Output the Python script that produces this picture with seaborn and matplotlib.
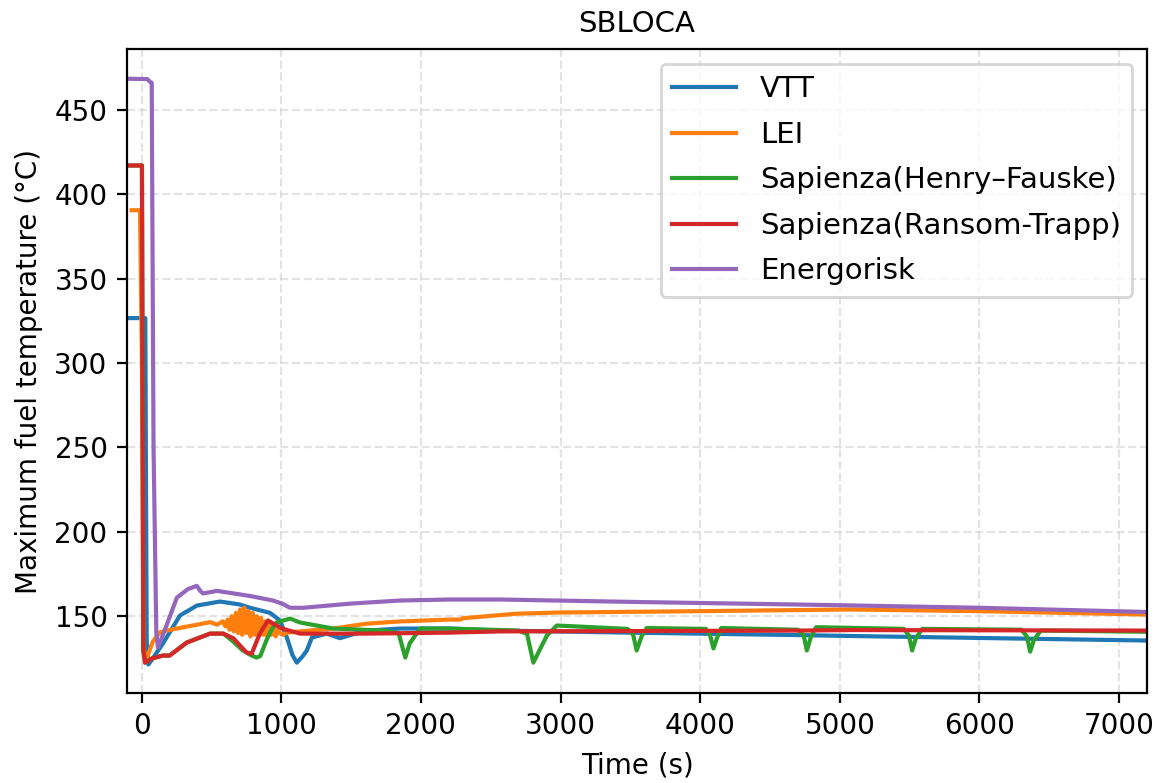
import matplotlib
matplotlib.use("Agg")
import matplotlib.pyplot as plt
import seaborn as sns
import pandas as pd

series_names = ["VTT", "LEI", "Sapienza(Henry–Fauske)", "Sapienza(Ransom-Trapp)", "Energorisk"]
colors = ["#1f77b4", "#ff7f0e", "#2ca02c", "#d62728", "#9467bd"]

vtt_t = [-105, 26, 36, 48, 80, 152, 274, 395, 560, 700, 776, 919, 990, 1040, 1080, 1111, 1150, 1183, 1219,
         1326, 1420, 1500, 1612, 1850, 2208, 2567, 3402, 4716, 5073, 7200]
vtt_T = [326.6, 326.6, 135, 121.4, 125, 133.8, 150.4, 156.3, 158.7, 157, 155, 152, 147.5, 137.4, 127, 122.5,
         126, 129.7, 137.4, 139.7, 137, 139, 141.5, 142.7, 142.7, 141.5, 140.4, 138.8, 138.3, 135.6]

lei_t = [-72, -12, 2, 12, 38, 80, 131, 180, 300, 400, 490, 540, 580, 600,
         615, 630, 645, 660, 675, 690, 705, 720, 735, 750, 765, 780, 795, 810, 825, 840, 855,
         870, 885, 900, 915, 930, 945, 960, 975, 990, 1010, 1040, 1200, 1372, 1613, 1850,
         2200, 2280, 2300, 2686, 2996, 4000, 5073, 6000, 7200]
lei_T = [390.5, 390.5, 300, 130, 125.5, 135, 140.5, 141.5, 143.5, 145, 146.5, 145, 147, 144,
         148, 142, 150, 141, 152, 140, 154, 139, 155, 140, 153, 138, 152, 139, 150, 138, 149,
         139, 147, 138, 146, 139, 143, 138, 142, 140, 139, 140.3, 141.5, 142.7, 145.6, 146.9,
         148, 148, 148.8, 151.5, 152.2, 153, 154, 153, 151]

hf_t = [-105, 2, 12, 24, 74, 152, 200, 323, 490, 585, 656, 720, 780, 823, 850, 893, 930, 965, 1063,
        1134, 1372, 1730, 1840, 1888, 1920, 1995, 2200, 2700, 2760, 2805, 2850, 2902, 2973, 3480,
        3520, 3545, 3580, 3617, 4040, 4070, 4095, 4120, 4150, 4700, 4740, 4764, 4790, 4830,
        5460, 5495, 5518, 5545, 5590, 6300, 6340, 6363, 6390, 6440, 7200]
hf_T = [417, 417, 130, 122.5, 125, 126.7, 126.7, 134.4, 139.7, 139.7, 135, 130, 127, 125.5, 126.5, 135.6,
        142, 146.3, 148.6, 146.3, 142.7, 141.5, 140, 125.5, 134, 142.7, 142.7, 141.5, 139.5, 122.5, 130,
        138.5, 144.5, 142.5, 139, 129.7, 138, 143, 142.5, 139, 130.9, 137, 143, 142, 139, 129.7,
        137, 143.5, 142.5, 138.5, 129.7, 137, 142.5, 142, 138, 129, 136, 141.5, 140.8]

rt_t = [-105, 2, 12, 24, 74, 152, 200, 323, 490, 585, 656, 751, 788, 846, 905, 942, 1004, 1134, 1612,
        2208, 2567, 4716, 5073, 7200]
rt_T = [417, 417, 130, 122.5, 125, 126.7, 126.7, 134.4, 139.7, 139.7, 137, 128.5, 127.8, 139.7, 147.5,
        145.6, 142.7, 139.7, 139.7, 140.3, 141.0, 141.5, 141.8, 141.5]

en_t = [-105, 40, 60, 72, 85, 105, 117, 180, 252, 330, 395, 420, 440, 540, 776, 940, 1005, 1063, 1157,
        1500, 1850, 2208, 2567, 3500, 4716, 5073, 6000, 7200]
en_T = [468.4, 468.2, 466.6, 466, 250, 140, 131.4, 145, 161, 166, 168, 165, 163.5, 165, 162, 159.3, 157.5,
        155, 155, 157.5, 159.3, 159.9, 159.9, 158.5, 156.9, 156.4, 155, 152.5]

x_ticks = [0, 1000, 2000, 3000, 4000, 5000, 6000, 7000]
y_ticks = [150, 200, 250, 300, 350, 400, 450]

frames = []
for name, t, T in zip(series_names,
                      [vtt_t, lei_t, hf_t, rt_t, en_t],
                      [vtt_T, lei_T, hf_T, rt_T, en_T]):
    frames.append(pd.DataFrame({"Time": t, "Temp": T, "Series": name}))
df = pd.concat(frames, ignore_index=True)

fig = plt.figure(figsize=(5.81, 3.915), dpi=200)
ax = fig.add_axes([0.1093, 0.1149, 0.8778, 0.8225])
sns.lineplot(data=df, x="Time", y="Temp", hue="Series", hue_order=series_names,
             palette=colors, sort=False, estimator=None, linewidth=1.5, ax=ax)

ax.set_xlim(-105, 7200)
ax.set_ylim(104.5, 486)
ax.set_xticks(x_ticks)
ax.set_yticks(y_ticks)
ax.grid(True, linestyle="--", color="#cccccc", alpha=0.55, linewidth=0.8)
ax.set_xlabel("Time (s)")
ax.set_ylabel("Maximum fuel temperature (°C)")
ax.set_title("SBLOCA", fontsize=10.5)
leg = ax.legend(loc="upper right", fontsize=10.5, handlelength=2.2, labelspacing=0.6)

fig.savefig("out.png", dpi=200)
